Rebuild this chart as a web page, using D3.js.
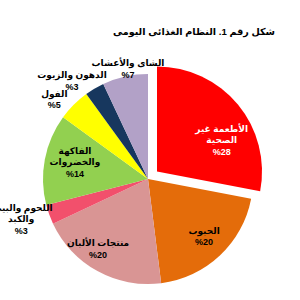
<!DOCTYPE html>
<html><head><meta charset="utf-8">
<script src="https://cdn.jsdelivr.net/npm/d3@7"></script>
<style>
html,body{margin:0;padding:0;background:#fff;}
svg{display:block;}
text{font-family:Arial,"Liberation Sans","DejaVu Sans",sans-serif;font-weight:bold;}
</style></head>
<body>
<svg id="chart" width="300" height="300"></svg>
<script>
const title = "شكل رقم 1. النظام الغذائى اليومى";
const categories = [
  ["الأطعمة غير","الصحية"],
  ["الحبوب"],
  ["منتجات الألبان"],
  ["اللحوم والبيض","والكبد"],
  ["الفاكهة","والخضروات"],
  ["الفول"],
  ["الدهون والزيوت"],
  ["الشاى والأعشاب"]
];
const values = [28, 20, 20, 3, 14, 5, 3, 7];
const valueLabels = ["%28","%20","%20","%3","%14","%5","%3","%7"];
const colors = ["#FF0000","#E46C0A","#D99594","#F2506C","#92D050","#FFFF00","#17375E","#B2A1C7"];
const labelColors = ["#fff","#000","#000","#000","#000","#000","#000","#000"];
// label placement (angle in degrees from 12 o'clock, radius in px)
const labelAngle = [64, 135.5, 215.5, 252.5, 283, 310.4, 322.2, 349.7];
const labelRadius = [72, 80, 86, 133, 75, 123, 124, 112];
const explode = [11.7, 0, 0, 0, 0, 0, 0, 0];

const svg = d3.select("#chart");
const cx = 148, cy = 179, R = 105;

svg.append("text")
  .attr("x", 194).attr("y", 35)
  .attr("text-anchor", "middle")
  .attr("direction", "rtl")
  .style("font-size", "9.6px")
  .text(title);

const pie = d3.pie().sort(null).value(d => d)(values);
const arc = d3.arc().innerRadius(0).outerRadius(R);
const g = svg.append("g").attr("transform", `translate(${cx},${cy})`);

g.selectAll("path").data(pie).join("path")
  .attr("d", arc)
  .attr("fill", (d, i) => colors[i])
  .attr("transform", (d, i) => {
    const a = (d.startAngle + d.endAngle) / 2;
    return `translate(${Math.sin(a) * explode[i]},${-Math.cos(a) * explode[i]})`;
  });

const lh = 11.5;
pie.forEach((d, i) => {
  const a = labelAngle[i] * Math.PI / 180;
  const mid = (d.startAngle + d.endAngle) / 2;
  const ox = Math.sin(mid) * explode[i], oy = -Math.cos(mid) * explode[i];
  const x = ox + Math.sin(a) * labelRadius[i];
  const y = oy - Math.cos(a) * labelRadius[i];
  const lines = categories[i].concat([valueLabels[i]]);
  const t = g.append("text")
    .attr("text-anchor", "middle")
    .attr("fill", labelColors[i])
    .style("font-size", "9px");
  lines.forEach((ln, k) => {
    t.append("tspan")
      .attr("x", x)
      .attr("y", y + (k - (lines.length - 1) / 2) * lh + 3.2)
      .text(ln);
  });
});
</script>
</body></html>
